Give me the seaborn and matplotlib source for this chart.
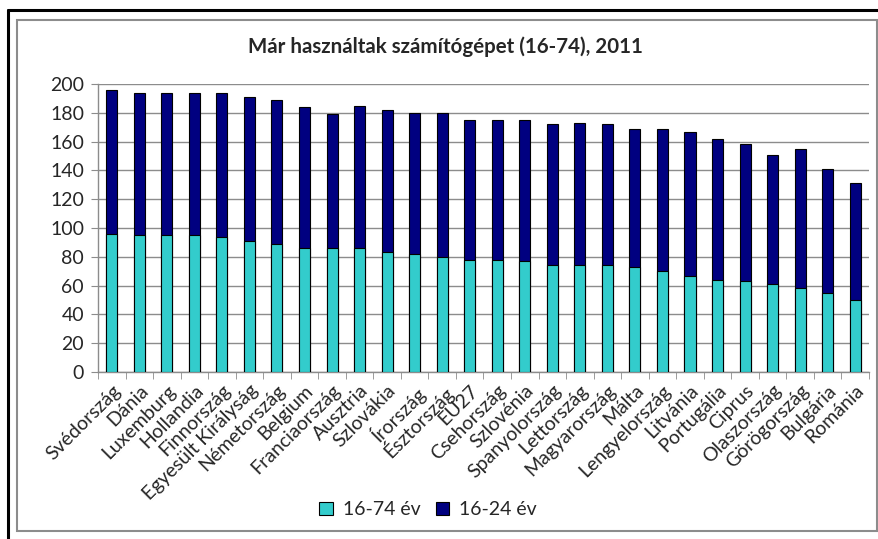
import numpy as np
import pandas as pd
import matplotlib
matplotlib.use("Agg")
import matplotlib.pyplot as plt
import seaborn as sns
from matplotlib.patches import Patch, Rectangle
from matplotlib.lines import Line2D

# ---- data ----
countries = ["Svédország", "Dánia", "Luxemburg", "Hollandia", "Finnország",
             "Egyesült Királyság", "Németország", "Belgium", "Franciaország",
             "Ausztria", "Szlovákia", "Írország", "Észtország", "EU27",
             "Csehország", "Szlovénia", "Spanyolország", "Lettország",
             "Magyarország", "Málta", "Lengyelország", "Litvánia", "Portugália",
             "Ciprus", "Olaszország", "Görögország", "Bulgária", "Románia"]
age_16_74 = [96, 95, 95, 95, 94, 91, 89, 86, 86, 86, 83, 82, 80, 78,
             78, 77, 74, 74, 74, 73, 70, 67, 64, 63, 61, 58, 55, 50]
age_16_24 = [100, 99, 99, 99, 100, 100, 100, 98, 93, 99, 99, 98, 100, 97,
             97, 98, 98, 99, 98, 96, 99, 100, 98, 95, 90, 97, 86, 81]

title = "Már használtak számítógépet (16-74), 2011"
label_a = "16-74 év"
label_b = "16-24 év"
col_a = "#33CCCC"
col_b = "#000080"

df = pd.DataFrame({"country": countries, "a": age_16_74, "b": age_16_24})
df["total"] = df["a"] + df["b"]

sns.set_style("white")
plt.rcParams["font.family"] = ["Lato", "DejaVu Sans"]

fig = plt.figure(figsize=(8.79, 5.39), dpi=100)
ax = fig.add_axes([0.1115, 0.3098, 0.8771, 0.5344])

# stacked bars: total first (dark), then lower part on top (light)
sns.barplot(data=df, x="country", y="total", color=col_b, width=0.4,
            edgecolor="black", linewidth=0.8, saturation=1, ax=ax, zorder=3)
sns.barplot(data=df, x="country", y="a", color=col_a, width=0.4,
            edgecolor="black", linewidth=0.8, saturation=1, ax=ax, zorder=4)

n = len(countries)
ax.set_xlim(-0.5, n - 0.5)
ax.set_ylim(0, 200)
ax.set_yticks(range(0, 201, 20))
ax.yaxis.grid(True, color="#8c8c8c", linewidth=1)
ax.set_axisbelow(True)
ax.set_xlabel("")
ax.set_ylabel("")

for s in ["top", "right"]:
    ax.spines[s].set_visible(False)
for s in ["left", "bottom"]:
    ax.spines[s].set_color("#8c8c8c")
    ax.spines[s].set_linewidth(1)

ax.tick_params(axis="y", which="major", length=5, color="#8c8c8c",
               labelsize=14, pad=5, direction="out", left=True)
ax.set_xticks(np.arange(n))
ax.set_xticks(np.arange(-0.5, n, 1), minor=True)
ax.tick_params(axis="x", which="major", length=0, pad=7, labelsize=14)
ax.tick_params(axis="x", which="minor", length=5, color="#8c8c8c",
               direction="out", bottom=True)
ax.set_xticklabels(countries, rotation=45, ha="right", rotation_mode="anchor")

fig.text(0.507, 0.914, title, ha="center", va="center",
         fontsize=14.8, fontweight="bold")

handles = [Patch(facecolor=col_a, edgecolor="black", linewidth=0.8, label=label_a),
           Patch(facecolor=col_b, edgecolor="black", linewidth=0.8, label=label_b)]
fig.legend(handles=handles, loc="center", bbox_to_anchor=(0.487, 0.054),
           ncol=2, frameon=False, fontsize=14, handlelength=0.7,
           handleheight=0.7, handletextpad=0.5, columnspacing=0.8)

# chart frame
W, H = 879, 539
fig.add_artist(Rectangle((17 / W, 1 - 531 / H), (877 - 17) / W, (531 - 20) / H,
                         transform=fig.transFigure, fill=False,
                         edgecolor="#8c8c8c", linewidth=1.5))
fig.add_artist(Line2D([8 / W, 1], [1 - 10 / H, 1 - 10 / H],
                      transform=fig.transFigure, color="black", linewidth=2.2))
fig.add_artist(Line2D([8 / W, 8 / W], [0, 1 - 10 / H],
                      transform=fig.transFigure, color="black", linewidth=2.2))

fig.savefig("out.png", dpi=100, facecolor="white")
